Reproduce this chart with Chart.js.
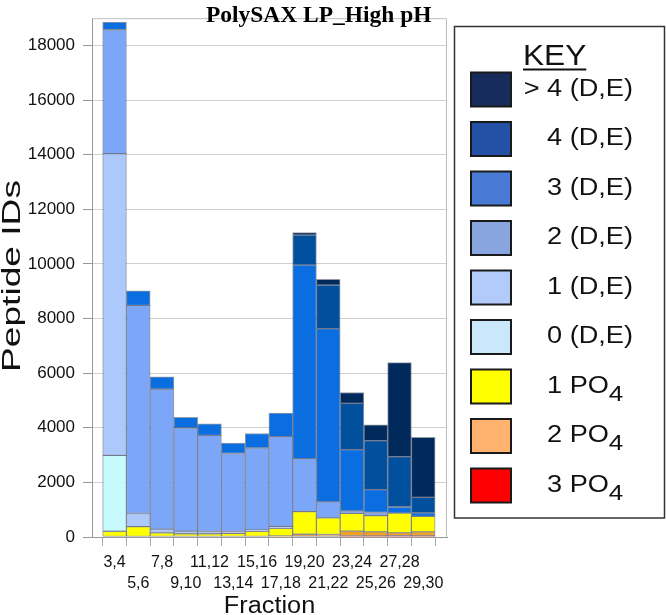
<!DOCTYPE html>
<html>
<head>
<meta charset="utf-8">
<title>PolySAX LP_High pH</title>
<script src="https://cdn.jsdelivr.net/npm/chart.js"></script>
<style>
  html, body { margin: 0; padding: 0; background: #fff; }
  #wrap { width: 666px; height: 615px; }
</style>
</head>
<body>
<div id="wrap"><canvas id="myChart" width="666" height="615"></canvas></div>
<script>
// fractions (x categories)
const fractions = ['3,4', '5,6', '7,8', '9,10', '11,12', '13,14', '15,16',
                   '17,18', '19,20', '21,22', '23,24', '25,26', '27,28', '29,30'];

// peptide IDs per fraction, one array per class (bottom of the stack first)
const po4_3 = [0, 0, 0, 0, 0, 0, 0, 0, 0, 0, 35, 40, 46, 46];
const po4_2 = [0, 0, 0, 0, 0, 0, 0, 40, 100, 90, 180, 150, 107, 143];
const po4_1 = [210, 380, 150, 120, 120, 130, 210, 280, 830, 608, 648, 590, 721, 567];
const de0 = [2780, 0, 0, 0, 0, 0, 0, 0, 0, 0, 0, 0, 0, 0];
const de1 = [11050, 481, 140, 95, 80, 70, 50, 70, 0, 0, 0, 0, 0, 0];
const de2 = [4537, 7619, 5120, 3780, 3520, 2858, 3000, 3285, 1940, 588, 96, 118, 0, 0];
const de3 = [283, 531, 460, 390, 425, 379, 532, 860, 7087, 6344, 2243, 838, 225, 130];
const de4 = [0, 0, 0, 0, 0, 0, 0, 0, 1100, 1594, 1690, 1796, 1842, 567];
const de5 = [0, 0, 0, 0, 0, 0, 0, 0, 96, 213, 401, 578, 3448, 2197];

const seriesNames = ['3 PO4', '2 PO4', '1 PO4', '0 (D,E)', '1 (D,E)', '2 (D,E)', '3 (D,E)', '4 (D,E)', '> 4 (D,E)'];
const seriesValues = [po4_3, po4_2, po4_1, de0, de1, de2, de3, de4, de5];

// bar fills and the (slightly different) key swatches
const barColors = ['#e2401c', '#f4a124', '#ffff00', '#c6fafc', '#adc8fa', '#7ca6f8', '#0a6de0', '#00509e', '#002a5c'];
const keyColors = ['#ff0000', '#ffb36e', '#ffff00', '#cbe8fa', '#b2cbf9', '#88a5e0', '#4a7bd4', '#2450a6', '#172b5c'];

const yTicks = [0, 2000, 4000, 6000, 8000, 10000, 12000, 14000, 16000, 18000];

const plotTitle = 'PolySAX LP_High pH';
const xTitle = 'Fraction';
const yTitle = 'Peptide IDs';

const SANS = '"Liberation Sans", Arial, Helvetica, sans-serif';
Chart.defaults.font.family = SANS;
Chart.defaults.color = '#222';

const datasets = seriesValues.map(function(vals, s) {
  return {
    label: seriesNames[s],
    data: vals.map(function(v, i) { return { x: i, y: v || null }; }),
    backgroundColor: barColors[s],
    borderColor: 'rgba(20,30,60,0.45)',
    borderWidth: 1,
    borderSkipped: false,
    barPercentage: 1,
    categoryPercentage: 1
  };
});

// text drawn a bit wider than the font, like the original artwork
function wideText(ctx, text, x, y, sx, align) {
  ctx.save();
  ctx.translate(x, y);
  ctx.scale(sx, 1);
  ctx.textAlign = align;
  ctx.fillText(text, 0, 0);
  ctx.restore();
}

// titles, frame and the KEY box
const decor = {
  id: 'decor',
  afterDraw(chart) {
    const ctx = chart.ctx;
    const a = chart.chartArea;
    ctx.save();

    ctx.strokeStyle = '#bdbdbd';
    ctx.lineWidth = 1;
    ctx.beginPath();
    ctx.moveTo(a.left, a.top + 0.5);
    ctx.lineTo(a.right - 0.5, a.top + 0.5);
    ctx.lineTo(a.right - 0.5, a.bottom);
    ctx.stroke();

    ctx.fillStyle = '#000';
    ctx.textBaseline = 'alphabetic';
    ctx.font = 'bold 23px "Liberation Serif", "Times New Roman", serif';
    wideText(ctx, plotTitle, 206, 22, 1.02, 'left');

    ctx.fillStyle = '#111';
    ctx.font = '23px ' + SANS;
    wideText(ctx, xTitle, (a.left + a.right) / 2, 613, 1.1, 'center');

    // y title: rotated, stretched along its length
    ctx.save();
    ctx.translate(13, 276);
    ctx.rotate(-Math.PI / 2);
    ctx.font = '25px ' + SANS;
    ctx.textBaseline = 'middle';
    const tw = ctx.measureText(yTitle).width;
    wideText(ctx, yTitle, 0, 0, 192 / tw, 'center');
    ctx.restore();

    // key box
    ctx.strokeStyle = '#333';
    ctx.lineWidth = 1.5;
    ctx.strokeRect(454.5, 26.5, 210, 491.5);

    ctx.font = '29px ' + SANS;
    ctx.textBaseline = 'alphabetic';
    const kw = ctx.measureText('KEY').width * 1.09;
    wideText(ctx, 'KEY', 523, 65, 1.09, 'left');
    ctx.lineWidth = 2;
    ctx.strokeStyle = '#111';
    ctx.beginPath();
    ctx.moveTo(523, 69.5);
    ctx.lineTo(523 + kw, 69.5);
    ctx.stroke();

    const n = seriesNames.length;
    for (let k = 0; k < n; k++) {
      const s = n - 1 - k;
      const cy = 89.5 + k * 49.5;
      ctx.fillStyle = keyColors[s];
      ctx.fillRect(471, cy - 17, 40, 34);
      ctx.lineWidth = 2;
      ctx.strokeStyle = '#1a1a1a';
      ctx.strokeRect(471, cy - 17, 40, 34);

      ctx.fillStyle = '#111';
      ctx.font = '23px ' + SANS;
      ctx.textBaseline = 'middle';
      const name = seriesNames[s];
      if (name.endsWith('PO4')) {
        const main = name.slice(0, -1);
        wideText(ctx, main, 547, cy, 1.18, 'left');
        const w = ctx.measureText(main).width * 1.18;
        ctx.font = '22px ' + SANS;
        wideText(ctx, '4', 547 + w, cy + 8, 1.18, 'left');
      } else {
        wideText(ctx, name, 633, cy, 1.18, 'right');
      }
    }
    ctx.restore();
  }
};

const config = {
  type: 'bar',
  data: { datasets: datasets },
  options: {
    responsive: false,
    animation: false,
    layout: { padding: { left: 0, right: 219, top: 1, bottom: 0 } },
    plugins: {
      legend: { display: false },
      tooltip: { enabled: false }
    },
    scales: {
      x: {
        type: 'linear',
        stacked: true,
        offset: false,
        min: -0.95,
        max: 14,
        afterBuildTicks: function(scale) {
          scale.ticks = fractions.map(function(f, i) { return { value: i }; });
        },
        afterFit: function(scale) { scale.height = 78; },
        ticks: {
          autoSkip: false,
          maxRotation: 0,
          minRotation: 0,
          padding: 6,
          color: '#111',
          font: { size: 16, lineHeight: 1.3 },
          callback: function(value) {
            const i = Math.round(value);
            return i % 2 === 0 ? [fractions[i], ''] : ['', fractions[i]];
          }
        },
        grid: {
          drawOnChartArea: false,
          tickLength: 9,
          tickColor: '#aaa'
        },
        border: { color: '#999' }
      },
      y: {
        stacked: true,
        min: 0,
        max: 19000,
        afterBuildTicks: function(scale) {
          scale.ticks = yTicks.map(function(v) { return { value: v }; });
        },
        afterFit: function(scale) { scale.width = 92; },
        ticks: {
          padding: 8,
          color: '#111',
          font: { size: 17 },
          callback: function(value) { return String(value); }
        },
        grid: {
          color: '#d0d0d0',
          tickLength: 9,
          tickColor: '#999'
        },
        border: { color: '#999' }
      }
    }
  },
  plugins: [decor]
};

const myChart = new Chart(document.getElementById('myChart'), config);
</script>
</body>
</html>
